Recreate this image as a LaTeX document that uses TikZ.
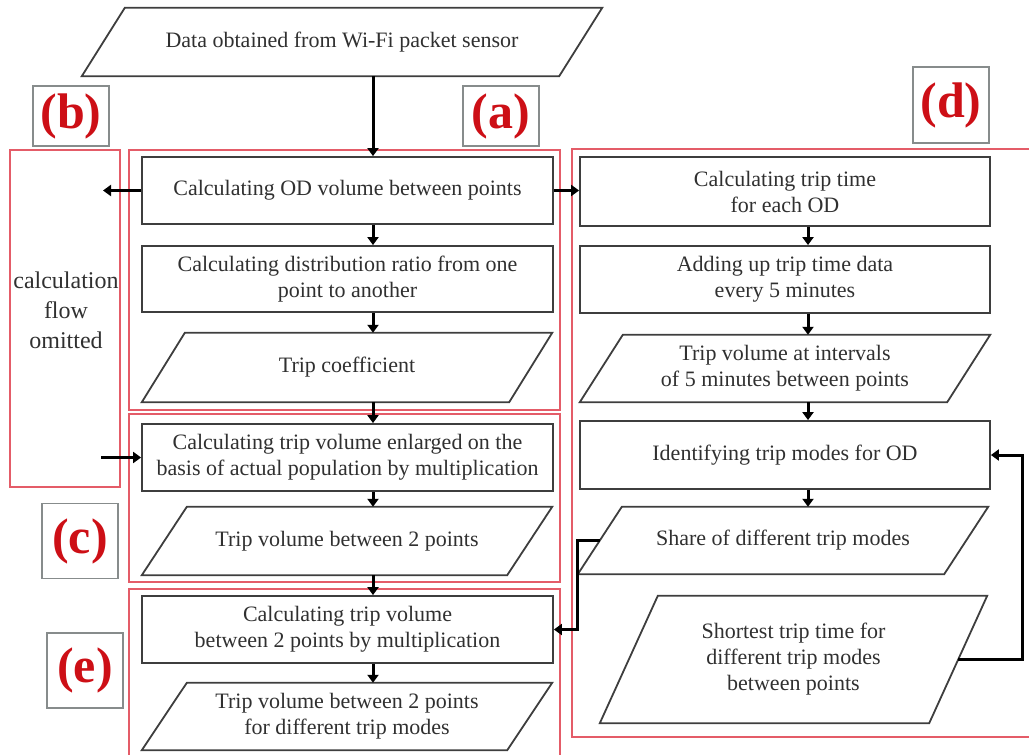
\documentclass[tikz,border=0pt]{standalone}
\usepackage{fontspec}
\setmainfont{Liberation Serif}
\usetikzlibrary{arrows.meta,calc}

\definecolor{panelred}{RGB}{228,92,104}
\definecolor{labelred}{RGB}{205,15,22}
\definecolor{boxline}{RGB}{62,62,62}
\definecolor{txt}{RGB}{48,48,48}
\definecolor{tagframe}{RGB}{135,140,140}

\newcommand\boxfont{\fontsize{22}{26}\selectfont}
\newcommand\sidefont{\fontsize{24}{30}\selectfont}
\newcommand\tagfont{\fontsize{50}{50}\selectfont\bfseries}

% parallelogram drawn around a text node: #1 node name, #2 slant
\newcommand\drawpara[2]{%
  \draw[paraline] (#1.south west) -- ([xshift=-#2]#1.south east)
    -- (#1.north east) -- ([xshift=#2]#1.north west) -- cycle;}

\tikzset{
  box/.style={draw=boxline, line width=1.8pt, fill=white, text=txt,
    align=center, font=\boxfont, inner sep=0pt},
  paratext/.style={text=txt, align=center, font=\boxfont, inner sep=0pt},
  paraline/.style={draw=boxline, line width=1.8pt, line join=miter},
  panel/.style={draw=panelred, line width=1.6pt},
  tag/.style={draw=tagframe, line width=1.2pt, fill=white, text=labelred,
    font=\tagfont, inner sep=0pt, minimum width=76pt},
  arr/.style={line width=3pt, line join=miter,
    -{Triangle[width=11pt,length=8pt]}},
}

\begin{document}
\begin{tikzpicture}[x=1pt,y=-1pt]
\useasboundingbox (0,0) rectangle (1029,755);

% group panels
\draw[panel] (10,150) rectangle (120,487);
\draw[panel] (129,150) rectangle (560,410);
\draw[panel] (129,414) rectangle (560,582);
\draw[panel] (129,589) rectangle (560,758);
\draw[panel] (572,149) rectangle (1040,737);

% group tags
\node[tag, minimum height=60pt] (tb) at (71,116) {(b)};
\node[tag, minimum height=60pt] (ta) at (501,116) {(a)};
\node[tag, minimum height=76pt] (td) at (951,105) {(d)};
\node[tag, minimum height=75pt] (tc) at (80,541) {(c)};
\node[tag, minimum height=75pt] (te) at (85,670.5) {(e)};

% input data
\node[paratext, minimum width=520pt, minimum height=68pt] (src) at (342,42)
  {Data obtained from Wi-Fi packet sensor};
\drawpara{src}{43pt}

% column (a) / (c) / (e)
\node[box, minimum width=411pt, minimum height=67pt] (od) at (347.5,190.5)
  {Calculating OD volume between points};
\node[box, minimum width=411pt, minimum height=66pt] (dr) at (347.5,279)
  {Calculating distribution ratio from one\\point to another};
\node[paratext, minimum width=410pt, minimum height=69pt] (tcoef) at (347,367.5)
  {Trip coefficient};
\drawpara{tcoef}{43pt}
\node[box, minimum width=411pt, minimum height=67pt] (c1) at (347.5,457.5)
  {Calculating trip volume enlarged on the\\basis of actual population by multiplication};
\node[paratext, minimum width=410pt, minimum height=68pt] (c2) at (347,541)
  {Trip volume between 2 points};
\drawpara{c2}{45pt}
\node[box, minimum width=411pt, minimum height=67pt] (e1) at (347.5,629.5)
  {Calculating trip volume\\between 2 points by multiplication};
\node[paratext, minimum width=410pt, minimum height=67pt] (e2) at (347,716.5)
  {Trip volume between 2 points\\for different trip modes};
\drawpara{e2}{45pt}

% column (d)
\node[box, minimum width=410pt, minimum height=69pt] (d1) at (785,191.5)
  {Calculating trip time\\for each OD};
\node[box, minimum width=410pt, minimum height=67pt] (d2) at (785,279.5)
  {Adding up trip time data\\every 5 minutes};
\node[paratext, minimum width=410pt, minimum height=67pt] (d3) at (785,368.5)
  {Trip volume at intervals\\of 5 minutes between points};
\drawpara{d3}{43pt}
\node[box, minimum width=410pt, minimum height=68pt] (d4) at (785,455)
  {Identifying trip modes for OD};
\node[paratext, minimum width=410pt, minimum height=67pt] (d5) at (783,540.5)
  {Share of different trip modes};
\drawpara{d5}{44pt}
\node[paratext, minimum width=387pt, minimum height=127pt] (d6) at (793.5,659.5)
  {Shortest trip time for\\different trip modes\\between points};
\drawpara{d6}{58pt}

% omitted branch
\node[font=\sidefont, text=txt, align=center, inner sep=0pt] (omit) at (66,310)
  {calculation\\flow\\omitted};

% routing coordinates
\coordinate (colA) at (373,0);
\coordinate (colD) at (808,0);
\coordinate (bout) at (103,0);
\coordinate (bin) at (101,457.5);
\coordinate (elbowL) at (577,0);
\coordinate (elbowR) at (1022,0);
\coordinate (d5l) at ($(d5.south west)!0.5!([xshift=44pt]d5.north west)$);
\coordinate (d6r) at ($(d6.north east)!0.5!([xshift=-58pt]d6.south east)$);

% connectors
\draw[arr] (src.south -| colA) -- (od.north -| colA);
\draw[arr] (od.south -| colA) -- (dr.north -| colA);
\draw[arr] (dr.south -| colA) -- (tcoef.north -| colA);
\draw[arr] (tcoef.south -| colA) -- (c1.north -| colA);
\draw[arr] (c1.south -| colA) -- (c2.north -| colA);
\draw[arr] (c2.south -| colA) -- (e1.north -| colA);
\draw[arr] (e1.south -| colA) -- (e2.north -| colA);

\draw[arr] (od.west) -- (od.west -| bout);
\draw[arr] (bin) -- (c1.west);
\draw[arr] (od.east) -- (od.east -| d1.west);

\draw[arr] (d1.south -| colD) -- (d2.north -| colD);
\draw[arr] (d2.south -| colD) -- (d3.north -| colD);
\draw[arr] (d3.south -| colD) -- (d4.north -| colD);
\draw[arr] (d4.south -| colD) -- (d5.north -| colD);

\draw[arr] (d5l) -- (d5l -| elbowL) |- (e1.east);
\draw[arr] (d6r) -- (d6r -| elbowR) |- (d4.east);
\end{tikzpicture}
\end{document}
